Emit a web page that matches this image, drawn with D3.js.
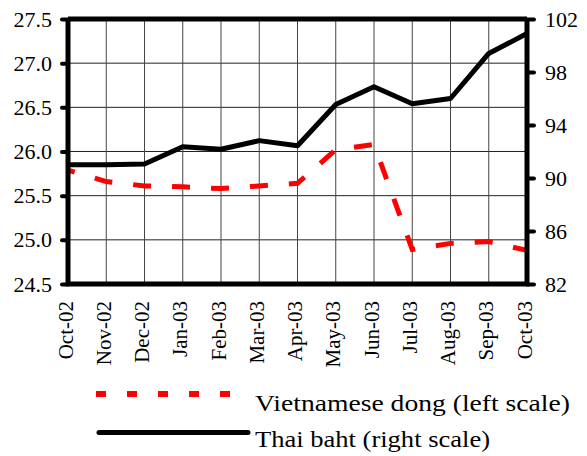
<!DOCTYPE html>
<html>
<head>
<meta charset="utf-8">
<script src="https://cdn.jsdelivr.net/npm/d3@7"></script>
<style>
  body { margin: 0; background: #fff; }
  svg { display: block; }
</style>
</head>
<body>
<div id="chart"></div>
<script>
let months = ["Oct-02", "Nov-02", "Dec-02", "Jan-03", "Feb-03", "Mar-03", "Apr-03",
              "May-03", "Jun-03", "Jul-03", "Aug-03", "Sep-03", "Oct-03"];
// Vietnamese dong, left scale
let dongValues = [25.79, 25.66, 25.61, 25.60, 25.58, 25.61, 25.64,
                  26.02, 26.08, 24.89, 24.96, 24.98, 24.88];
// Thai baht, right scale
let bahtValues = [91.0, 91.0, 91.05, 92.36, 92.17, 92.82, 92.43,
                  95.55, 96.89, 95.6, 96.0, 99.4, 100.9];
let leftTicks = [24.5, 25.0, 25.5, 26.0, 26.5, 27.0, 27.5];
let rightTicks = [82, 86, 90, 94, 98, 102];
let legendLabels = ["Vietnamese dong (left scale)", "Thai baht (right scale)"];

let fontFamily = "Liberation Serif";
let width = 587, height = 456;
let margin = {top: 19, right: 60, bottom: 172, left: 68};
let innerW = width - margin.left - margin.right,
    innerH = height - margin.top - margin.bottom;

let svg = d3.select("#chart").append("svg")
    .attr("width", width)
    .attr("height", height);

let g = svg.append("g")
    .attr("transform", "translate(" + margin.left + "," + margin.top + ")");

let xScale = d3.scalePoint()
    .domain(months)
    .range([0, innerW]);

let yLeft = d3.scaleLinear()
    .domain([24.5, 27.5])
    .range([innerH, 0]);

let yRight = d3.scaleLinear()
    .domain([82, 102])
    .range([innerH, 0]);

// gridlines
g.append("g")
    .selectAll("line")
    .data(leftTicks.slice(1, -1))
    .enter().append("line")
    .attr("x1", 0)
    .attr("x2", innerW)
    .attr("y1", function (d) { return yLeft(d); })
    .attr("y2", function (d) { return yLeft(d); })
    .style("stroke", "#222")
    .style("stroke-width", 1);

g.append("g")
    .selectAll("line")
    .data(months.slice(1, -1))
    .enter().append("line")
    .attr("x1", function (d) { return xScale(d); })
    .attr("x2", function (d) { return xScale(d); })
    .attr("y1", 0)
    .attr("y2", innerH)
    .style("stroke", "#444")
    .style("stroke-width", 1);

// series
let dongLine = d3.line()
    .x(function (d, i) { return xScale(months[i]); })
    .y(function (d) { return yLeft(d); });

let bahtLine = d3.line()
    .x(function (d, i) { return xScale(months[i]); })
    .y(function (d) { return yRight(d); });

g.append("path")
    .datum(dongValues)
    .attr("d", dongLine)
    .style("fill", "none")
    .style("stroke", "#ff0000")
    .style("stroke-width", 5)
    .style("stroke-dasharray", "18,21")
    .style("stroke-dashoffset", 11);

g.append("path")
    .datum(bahtValues)
    .attr("d", bahtLine)
    .style("fill", "none")
    .style("stroke", "#000")
    .style("stroke-width", 5)
    .style("stroke-linejoin", "round");

// frame
g.append("line")
    .attr("x1", 0).attr("x2", innerW)
    .attr("y1", 0).attr("y2", 0)
    .style("stroke", "#000")
    .style("stroke-width", 5);

function styleAxis(sel) {
    sel.select(".domain").remove();
    sel.selectAll(".tick line")
        .style("stroke", "#000")
        .style("stroke-width", 4)
        .style("stroke-linecap", "round");
    sel.selectAll(".tick text")
        .style("font-size", "22px")
        .style("fill", "#000");
}

let leftAxis = g.append("g")
    .call(d3.axisLeft(yLeft)
        .tickValues(leftTicks)
        .tickFormat(d3.format(".1f"))
        .tickSize(6)
        .tickPadding(10))
    .call(styleAxis);

let rightAxis = g.append("g")
    .attr("transform", "translate(" + innerW + ",0)")
    .call(d3.axisRight(yRight)
        .tickValues(rightTicks)
        .tickSize(7)
        .tickPadding(11))
    .call(styleAxis);

let bottomAxis = g.append("g")
    .attr("transform", "translate(0," + innerH + ")")
    .call(d3.axisBottom(xScale).tickSize(0));
bottomAxis.select(".domain").remove();
bottomAxis.selectAll(".tick text")
    .attr("transform", "rotate(-90)")
    .attr("x", -17)
    .attr("y", 0)
    .attr("dy", "4px")
    .style("text-anchor", "end")
    .style("font-size", "21px")
    .style("fill", "#000");

// thick axis lines
g.append("line")
    .attr("x1", 0).attr("x2", 0)
    .attr("y1", 0).attr("y2", innerH)
    .style("stroke", "#000")
    .style("stroke-width", 5);
g.append("line")
    .attr("x1", innerW).attr("x2", innerW)
    .attr("y1", 0).attr("y2", innerH)
    .style("stroke", "#000")
    .style("stroke-width", 5);
g.append("line")
    .attr("x1", -2).attr("x2", innerW + 2)
    .attr("y1", innerH).attr("y2", innerH)
    .style("stroke", "#000")
    .style("stroke-width", 5);

// legend
let legend = svg.append("g");

legend.append("line")
    .attr("x1", 96).attr("x2", 232)
    .attr("y1", 394).attr("y2", 394)
    .style("stroke", "#ff0000")
    .style("stroke-width", 6)
    .style("stroke-dasharray", "10,21");

legend.append("line")
    .attr("x1", 99).attr("x2", 248)
    .attr("y1", 432.5).attr("y2", 432.5)
    .style("stroke", "#000")
    .style("stroke-width", 5)
    .style("stroke-linecap", "round");

legend.selectAll("text")
    .data(legendLabels)
    .enter().append("text")
    .attr("x", 255)
    .attr("y", function (d, i) { return i === 0 ? 410.5 : 447; })
    .attr("textLength", function (d, i) { return i === 0 ? 315 : 235; })
    .attr("lengthAdjust", "spacingAndGlyphs")
    .style("font-size", "24px")
    .style("fill", "#000")
    .text(function (d) { return d; });

svg.selectAll("text").style("font-family", fontFamily);
</script>
</body>
</html>
